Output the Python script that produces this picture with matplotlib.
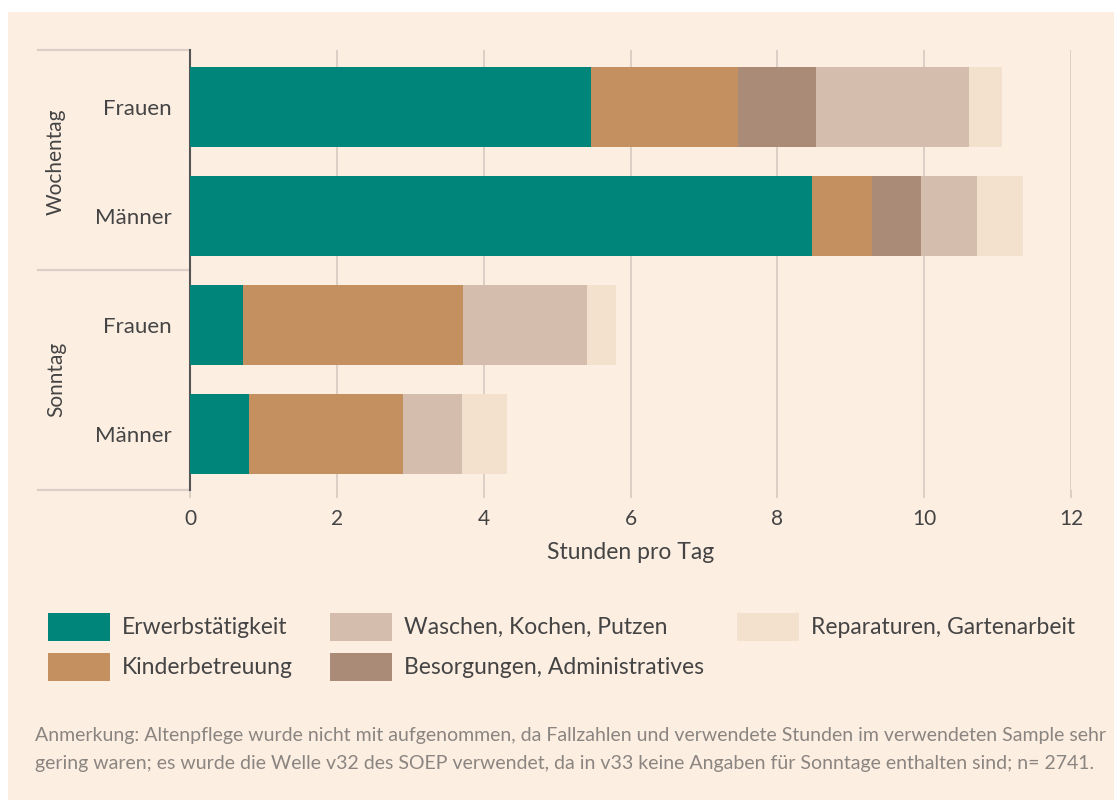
import numpy as np
import matplotlib as mpl
mpl.use("Agg")
import matplotlib.pyplot as plt
from matplotlib.patches import Rectangle

plt.rcParams['font.family'] = ['Lato', 'DejaVu Sans']

# Data (hours per day)
rows = ['Frauen', 'Männer', 'Frauen', 'Männer']
groups = ['Wochentag', 'Sonntag']
activities = ['Erwerbstätigkeit', 'Kinderbetreuung', 'Besorgungen, Administratives',
              'Waschen, Kochen, Putzen', 'Reparaturen, Gartenarbeit']
erwerb = [5.46, 8.47, 0.72, 0.80]
kinder = [2.01, 0.82, 3.00, 2.10]
besorg = [1.06, 0.67, 0.00, 0.00]
waschen = [2.08, 0.76, 1.69, 0.81]
repar = [0.45, 0.63, 0.39, 0.61]
xticks = [0, 2, 4, 6, 8, 10, 12]

colors = ['#00857a', '#c4905f', '#a98b78', '#d5bdae', '#f3e1cd']
bg = '#fdeee2'
textc = '#444444'

W, H = 1114, 800
fig = plt.figure(figsize=(W / 100, H / 100), dpi=100)
fig.patch.set_facecolor('white')
fig.patches.append(Rectangle((8 / W, 0), 1, 1 - 12 / H, transform=fig.transFigure,
                             facecolor=bg, edgecolor='none', zorder=-10))

ax = fig.add_axes([190 / W, 1 - 490 / H, 881 / W, 440 / H])
ax.patch.set_alpha(0)

y = np.arange(len(rows))
series = [erwerb, kinder, besorg, waschen, repar]
left = np.zeros(len(rows))
for vals, col in zip(series, colors):
    ax.barh(y, vals, left=left, height=0.74, color=col, zorder=3)
    left = left + np.array(vals)

ax.set_xlim(0, 12)
ax.set_ylim(3.515, -0.523)
ax.set_xticks(xticks)
ax.set_xticklabels([str(t) for t in xticks], fontsize=15, color=textc)
ax.set_yticks(y)
ax.set_yticklabels(rows, fontsize=16, color=textc)
ax.tick_params(axis='y', length=0, pad=13)
ax.tick_params(axis='x', length=6, color='#d6cabf', width=1.2, pad=8)
ax.grid(axis='x', color='#d9cdc3', linewidth=1.3, zorder=0)
for s in ['top', 'right', 'bottom']:
    ax.spines[s].set_visible(False)
ax.spines['left'].set_color('#555555')
ax.spines['left'].set_linewidth(1.5)
ax.set_xlabel('Stunden pro Tag', fontsize=16.5, color=textc, labelpad=9)

# group separators and labels
xs = (38 - 190) / 881
for yy in [-0.523, 1.5, 3.515]:
    ax.plot([xs, 0], [yy, yy], transform=ax.get_yaxis_transform(), clip_on=False,
            color='#dbd0c7', linewidth=1.6)
for g, yc in zip(groups, [0.5, 2.5]):
    ax.text((56 - 190) / 881, yc, g, transform=ax.get_yaxis_transform(), rotation=90,
            ha='center', va='center', fontsize=15, color=textc)

# legend
leg_order = [0, 1, 3, 2, 4]
leg_pos = [(48, 627), (48, 667), (330, 627), (330, 667), (737, 627)]
for i, (px, py) in zip(leg_order, leg_pos):
    fig.patches.append(Rectangle((px / W, 1 - (py + 14) / H), 62 / W, 28 / H,
                                 transform=fig.transFigure, facecolor=colors[i],
                                 edgecolor='none'))
    fig.text((px + 74) / W, 1 - py / H, activities[i], ha='left', va='center',
             fontsize=16.5, color=textc)

note = ('Anmerkung: Altenpflege wurde nicht mit aufgenommen, da Fallzahlen und verwendete Stunden im verwendeten Sample sehr\n'
        'gering waren; es wurde die Welle v32 des SOEP verwendet, da in v33 keine Angaben für Sonntage enthalten sind; n= 2741.')
fig.text(35 / W, 1 - 749.5 / H, note, ha='left', va='center', fontsize=14,
         color='#8a8580', linespacing=1.75)

fig.savefig('out.png', dpi=100, facecolor=fig.get_facecolor())
